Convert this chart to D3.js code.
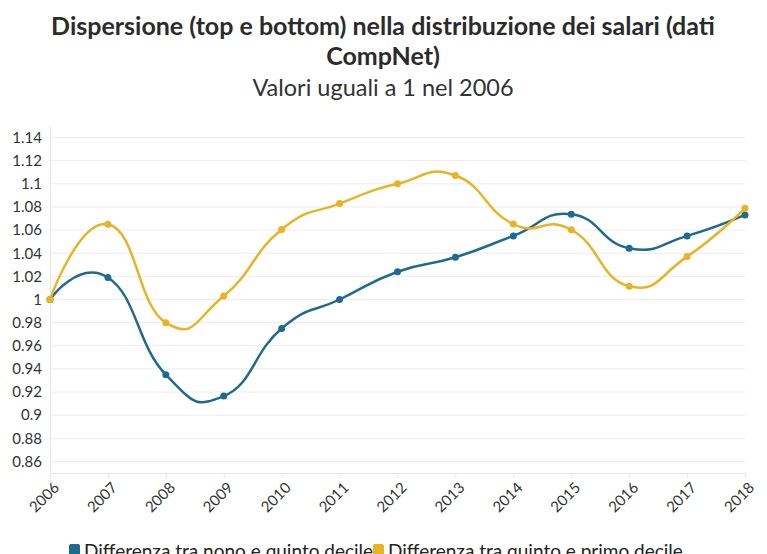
<!DOCTYPE html>
<html>
<head>
<meta charset="utf-8">
<script src="https://cdn.jsdelivr.net/npm/d3@7"></script>
<style>
  body { margin: 0; background: #fff; }
  svg { font-family: "Lato", "Noto Sans", sans-serif; }
</style>
</head>
<body>
<div id="chart"></div>
<script>
// data
var years = ["2006", "2007", "2008", "2009", "2010", "2011", "2012", "2013", "2014", "2015", "2016", "2017", "2018"];
var nonoQuinto = [1.0, 1.019, 0.935, 0.9165, 0.975, 1.0, 1.024, 1.0365, 1.055, 1.0737, 1.0443, 1.055, 1.0731];
var quintoPrimo = [1.0, 1.065, 0.98, 1.003, 1.0606, 1.0829, 1.1, 1.1072, 1.0652, 1.0603, 1.0114, 1.0371, 1.0788];
var seriesNames = ["Differenza tra nono e quinto decile", "Differenza tra quinto e primo decile"];
var yTicks = [0.86, 0.88, 0.9, 0.92, 0.94, 0.96, 0.98, 1, 1.02, 1.04, 1.06, 1.08, 1.1, 1.12, 1.14];

var width = 767, height = 554;
var margin = {top: 126, right: 22, bottom: 81, left: 50};
var colors = ["#1f6a8f", "#e9b424"];

var svg = d3.select("#chart").append("svg")
    .attr("width", width)
    .attr("height", height);

// titles
svg.append("text")
    .attr("x", 383).attr("y", 35)
    .attr("text-anchor", "middle")
    .style("font-size", "25px").style("font-weight", "bold").style("fill", "#2b2b2b")
    .text("Dispersione (top e bottom) nella distribuzione dei salari (dati");
svg.append("text")
    .attr("x", 383).attr("y", 65)
    .attr("text-anchor", "middle")
    .style("font-size", "25px").style("font-weight", "bold").style("fill", "#2b2b2b")
    .text("CompNet)");
svg.append("text")
    .attr("x", 383).attr("y", 96)
    .attr("text-anchor", "middle")
    .style("font-size", "23.5px").style("fill", "#333")
    .text("Valori uguali a 1 nel 2006");

var x = d3.scalePoint()
    .domain(years)
    .range([margin.left, width - margin.right]);

var y = d3.scaleLinear()
    .domain([0.85, 1.15])
    .range([height - margin.bottom, margin.top]);

// grid lines
svg.append("g")
    .selectAll("line")
    .data(yTicks)
    .enter().append("line")
    .attr("x1", margin.left).attr("x2", width - margin.right)
    .attr("y1", d => y(d)).attr("y2", d => y(d))
    .style("stroke", "#ececec").style("stroke-width", 1);

// y axis
var yAxis = svg.append("g")
    .attr("transform", "translate(" + margin.left + ",0)")
    .call(d3.axisLeft(y).tickValues(yTicks).tickFormat(d => String(+d.toFixed(2))).tickSize(0).tickPadding(8));
yAxis.select(".domain").style("stroke", "#e6e6e6");
yAxis.selectAll("text").style("font-size", "15px").style("fill", "#333").style("font-family", "Lato, sans-serif");

// x axis
var xAxis = svg.append("g")
    .attr("transform", "translate(0," + (height - margin.bottom) + ")")
    .call(d3.axisBottom(x).tickSize(5));
xAxis.select(".domain").style("stroke", "#e6e6e6");
xAxis.selectAll("line").style("stroke", "#e6e6e6");
xAxis.selectAll("text")
    .style("font-size", "15px").style("fill", "#333").style("font-family", "Lato, sans-serif")
    .style("text-anchor", "end")
    .attr("y", 0)
    .attr("dy", "0.35em")
    .attr("transform", "translate(6,12) rotate(-45)");

var line = d3.line()
    .x((d, i) => x(years[i]))
    .y(d => y(d))
    .curve(d3.curveCardinal.tension(-0.5));

[nonoQuinto, quintoPrimo].forEach(function(vals, k) {
    svg.append("path")
        .datum(vals)
        .attr("d", line)
        .style("fill", "none")
        .style("stroke", colors[k])
        .style("stroke-width", 2.5);
    svg.append("g")
        .selectAll("circle")
        .data(vals)
        .enter().append("circle")
        .attr("cx", (d, i) => x(years[i]))
        .attr("cy", d => y(d))
        .attr("r", 3.5)
        .style("fill", colors[k]);
});

// legend
var legend = svg.append("g");
var lx = [69, 373];
seriesNames.forEach(function(name, k) {
    legend.append("rect")
        .attr("x", lx[k]).attr("y", 544)
        .attr("width", 11).attr("height", 13)
        .attr("rx", 2)
        .style("fill", colors[k]);
    legend.append("text")
        .attr("x", lx[k] + 15).attr("y", 558)
        .style("font-size", "19px").style("fill", "#222")
        .text(name);
});
</script>
</body>
</html>
